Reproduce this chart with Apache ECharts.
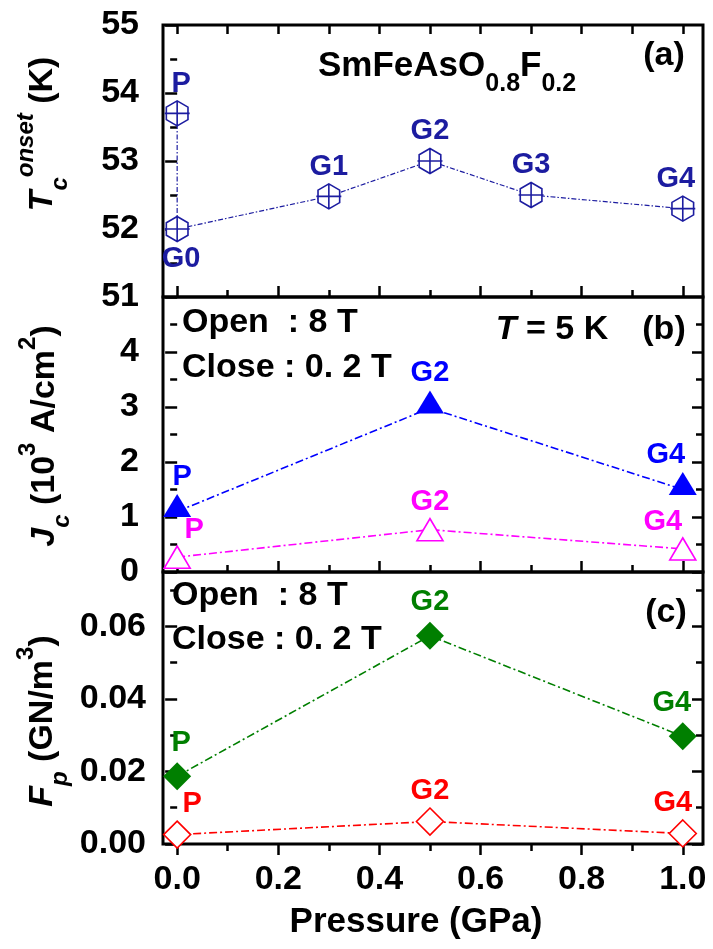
<!DOCTYPE html>
<html>
<head>
<meta charset="utf-8">
<script src="https://cdn.jsdelivr.net/npm/echarts@6/dist/echarts.min.js"></script>
<style>
  html, body { margin: 0; padding: 0; background: #fff; }
  #main { width: 713px; height: 949px; }
</style>
</head>
<body>
<div id="main"></div>
<script>
// (a) onset Tc vs pressure
const tcPressure = [0, 0, 0.3, 0.5, 0.7, 1.0]
const tcNames = ['P', 'G0', 'G1', 'G2', 'G3', 'G4']
const tcOnset = [53.7, 52.0, 52.48, 53.0, 52.5, 52.3]

// (b) Jc at 5 K
const jcPressure = [0, 0.5, 1.0]
const jcNames = ['P', 'G2', 'G4']
const jcOpen = [1.1, 2.98, 1.5]
const jcClose = [0.27, 0.77, 0.42]

// (c) pinning force
const fpPressure = [0, 0.5, 1.0]
const fpNames = ['P', 'G2', 'G4']
const fpOpen = [0.0187, 0.0574, 0.0297]
const fpClose = [0.0026, 0.0062, 0.0029]

// ticks
const pressureTicks = [0, 0.2, 0.4, 0.6, 0.8, 1.0]
const pressureMinor = [0.1, 0.3, 0.5, 0.7, 0.9]
const tcTicks = [51, 52, 53, 54, 55]
const tcMinor = [51.5, 52.5, 53.5, 54.5]
const jcTicks = [0, 1, 2, 3, 4]
const jcMinor = [0.5, 1.5, 2.5, 3.5, 4.5]
const fpTicks = [0, 0.02, 0.04, 0.06]
const fpMinor = [0.01, 0.03, 0.05, 0.07]

const FONT = '"Liberation Sans", Arial, Helvetica, sans-serif'
const NAVY = '#1c1ca0'
const DASH_A = [5, 2, 1.5, 2]
const DASH = [8, 3, 2, 3]
const HEX = 'path://M50 0L93.3 25L93.3 75L50 100L6.7 75L6.7 25ZM0 50L100 50M50 0L50 100'

const chart = echarts.init(document.getElementById('main'))

const xAxes = []
const yAxes = []

function tickStyle (values, length, inside) {
    return {
        show: true,
        customValues: values,
        inside: inside,
        length: length,
        lineStyle: { color: '#000', width: 2.5 }
    }
}

function addX (grid, values, length, inside, position, label) {
    xAxes.push({
        gridIndex: grid,
        type: 'value',
        min: -0.028,
        max: 1.04,
        position: position,
        splitLine: { show: false },
        axisLine: { show: false },
        axisTick: tickStyle(values, length, inside),
        axisLabel: label || { show: false }
    })
    return xAxes.length - 1
}

function addY (grid, min, max, values, length, inside, position, label) {
    yAxes.push({
        gridIndex: grid,
        type: 'value',
        min: min,
        max: max,
        position: position,
        splitLine: { show: false },
        axisLine: { show: false },
        axisTick: tickStyle(values, length, inside),
        axisLabel: label || { show: false }
    })
    return yAxes.length - 1
}

function tickLabel (values, fmt, margin) {
    return {
        show: true,
        customValues: values,
        formatter: fmt,
        margin: margin,
        color: '#000',
        fontSize: 34,
        fontWeight: 'bold',
        fontFamily: FONT
    }
}

// build axes for one panel; returns [xIndex, yIndex]
function panel (grid, ymin, ymax, yt, ym, fmt, margin, bottomLabels, topTicks) {
    const xi = addX(grid, pressureTicks, 11, !bottomLabels, 'bottom',
        bottomLabels ? tickLabel(pressureTicks, v => v.toFixed(1), 19) : null)
    addX(grid, pressureMinor, 7, !bottomLabels, 'bottom')
    if (topTicks) {
        addX(grid, pressureTicks, 9, true, 'top')
        addX(grid, pressureMinor, 9, true, 'top')
    }
    const yi = addY(grid, ymin, ymax, yt, 12, false, 'left', tickLabel(yt, fmt, margin))
    addY(grid, ymin, ymax, ym, 7, false, 'left')
    addY(grid, ymin, ymax, yt, 11, true, 'right')
    addY(grid, ymin, ymax, ym, 7, true, 'right')
    return [xi, yi]
}

const pa = panel(0, 51, 55, tcTicks, tcMinor, v => String(v), 24, false, true)
const pb = panel(1, 0, 5, jcTicks, jcMinor, v => String(v), 24, false, false)
const pc = panel(2, 0, 0.075, fpTicks, fpMinor, v => v.toFixed(2), 17, true, false)

function makeSeries (axes, xs, ys, names, opt) {
    return {
        type: 'line',
        xAxisIndex: axes[0],
        yAxisIndex: axes[1],
        data: xs.map((x, i) => ({
            value: [x, ys[i]],
            label: {
                position: names[i] === 'G0' ? 'bottom' : 'top',
                offset: [x === 0 ? opt.edgeL : (x === 1 ? opt.edgeR : 0), 0]
            }
        })),
        symbol: opt.symbol,
        symbolSize: opt.size,
        symbolOffset: opt.offset || [0, 0],
        itemStyle: { color: opt.fill, borderColor: opt.color, borderWidth: opt.border },
        lineStyle: { color: opt.color, width: opt.lineWidth, type: opt.dash },
        label: {
            show: true,
            distance: opt.dist,
            formatter: p => names[p.dataIndex],
            color: opt.color,
            fontSize: 29,
            fontWeight: 'bold',
            fontFamily: FONT
        },
        emphasis: { disabled: true },
        z: 3
    }
}

const series = [
    makeSeries(pa, tcPressure, tcOnset, tcNames, {
        symbol: HEX, size: [25, 25], fill: '#fff', color: NAVY, border: 1.6,
        lineWidth: 1.2, dash: DASH_A, dist: 2, edgeL: 4, edgeR: -7
    }),
    makeSeries(pb, jcPressure, jcOpen, jcNames, {
        symbol: 'triangle', size: [28, 23], offset: [0, -6], fill: '#0000ff', color: '#0000ff', border: 0,
        lineWidth: 1.6, dash: DASH, dist: 3, edgeL: 5, edgeR: -17
    }),
    makeSeries(pb, jcPressure, jcClose, jcNames, {
        symbol: 'triangle', size: [26, 22], fill: '#fff', color: '#ff00ff', border: 1.6,
        lineWidth: 1.6, dash: DASH, dist: 1, edgeL: 17, edgeR: -20
    }),
    makeSeries(pc, fpPressure, fpOpen, fpNames, {
        symbol: 'diamond', size: [28, 28], fill: '#007f00', color: '#007f00', border: 0,
        lineWidth: 1.6, dash: DASH, dist: 5, edgeL: 4, edgeR: -11
    }),
    makeSeries(pc, fpPressure, fpClose, fpNames, {
        symbol: 'diamond', size: [27, 27], fill: '#fff', color: '#ff0000', border: 1.6,
        lineWidth: 1.6, dash: DASH, dist: 2, edgeL: 15, edgeR: -10
    })
]

function tok (size, italic, align) {
    return {
        fontSize: size,
        fontWeight: 'bold',
        fontStyle: italic ? 'italic' : 'normal',
        fontFamily: FONT,
        fill: '#000',
        lineHeight: align === 'middle' ? 58 : size,
        verticalAlign: align
    }
}
const RICH = {
    n: tok(34, false, 'middle'),
    i: tok(34, true, 'middle'),
    sub: tok(24, false, 'bottom'),
    subi: tok(24, true, 'bottom'),
    sup: tok(24, false, 'top'),
    supi: tok(24, true, 'top')
}

function richText (x, y, text, rotate, align) {
    return {
        type: 'text',
        x: x,
        y: y,
        rotation: rotate ? Math.PI / 2 : 0,
        style: {
            text: text,
            rich: RICH,
            align: align || 'center',
            verticalAlign: 'middle'
        }
    }
}

function plainText (x, y, text, align, size) {
    return {
        type: 'text',
        x: x,
        y: y,
        style: {
            text: text,
            fill: '#000',
            fontSize: size || 34,
            fontWeight: 'bold',
            fontFamily: FONT,
            align: align || 'left',
            verticalAlign: 'middle'
        }
    }
}

const texts = [
    richText(43, 134, '{i|T}{subi|c}{supi|onset}{n| (K)}', true),
    richText(45, 436, '{i|J}{subi|c}{n| (10}{sup|3}{n| A/cm}{sup|2}{n|)}', true),
    richText(43, 721, '{i|F}{subi|p}{n| (GN/m}{sup|3}{n|)}', true),
    {
        type: 'text',
        x: 318,
        y: 66,
        style: {
            text: '{b|SmFeAsO}{s|0.8}{b|F}{s|0.2}',
            align: 'left',
            verticalAlign: 'middle',
            rich: {
                b: Object.assign(tok(35, false, 'middle'), { lineHeight: 62 }),
                s: tok(25, false, 'bottom')
            }
        }
    },
    plainText(664, 56, '(a)', 'center'),
    plainText(664, 330, '(b)', 'center'),
    plainText(666, 613, '(c)', 'center'),
    richText(552, 330, '{i|T}{n| = 5 K}', false),
    plainText(182, 323, 'Open  : 8 T'),
    plainText(182, 368, 'Close : 0. 2 T'),
    plainText(172, 596, 'Open  : 8 T'),
    plainText(172, 640, 'Close : 0. 2 T'),
    plainText(416, 922, 'Pressure (GPa)', 'center', 35)
]

const gridBase = { left: 163, right: 10, show: true, borderColor: '#000', borderWidth: 3, backgroundColor: 'transparent' }

chart.setOption({
    animation: false,
    backgroundColor: '#fff',
    grid: [
        Object.assign({ top: 25, height: 272 }, gridBase),
        Object.assign({ top: 297, height: 275 }, gridBase),
        Object.assign({ top: 572, height: 272 }, gridBase)
    ],
    xAxis: xAxes,
    yAxis: yAxes,
    series: series,
    graphic: texts
})
</script>
</body>
</html>
